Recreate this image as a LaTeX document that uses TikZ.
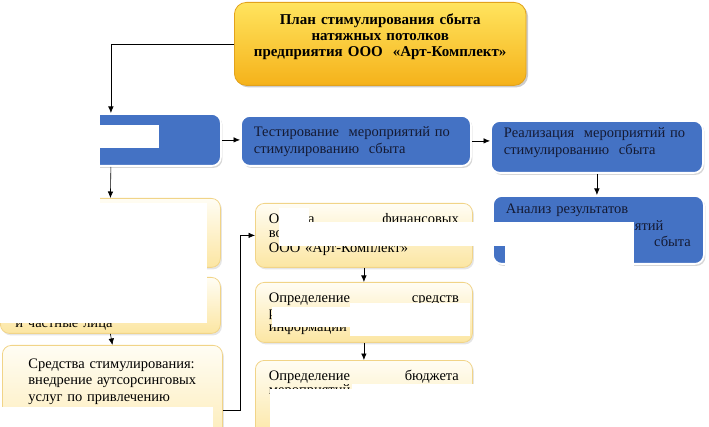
\documentclass[tikz,border=0pt]{standalone}
\usepackage{fontspec}
\setmainfont{Liberation Serif}
\usetikzlibrary{positioning, calc, arrows.meta, shadows}

\definecolor{boxblue}{HTML}{4472C4}
\definecolor{bluetext}{HTML}{141A33}
\definecolor{goldtop}{HTML}{FFE45E}
\definecolor{goldbot}{HTML}{F5B21A}
\definecolor{goldline}{HTML}{E2A21C}
\definecolor{creamtop}{HTML}{FFFDF4}
\definecolor{creambot}{HTML}{FCE6A2}
\definecolor{creamline}{HTML}{F1D488}

\tikzset{
  box/.style={anchor=north west, inner ysep=0pt, align=left, rounded corners=9pt},
  planbox/.style={box, align=center, top color=goldtop, bottom color=goldbot, draw=goldline,
    line width=0.8pt, rounded corners=12pt,
    drop shadow={shadow xshift=2pt, shadow yshift=-2pt, fill=black!40, opacity=0.5},
    font=\fontsize{15}{16}\selectfont\bfseries},
  bluebox/.style={box, fill=boxblue, draw=white, line width=1.8pt, text=bluetext,
    drop shadow={shadow xshift=1.5pt, shadow yshift=-2pt, fill=black!35, opacity=0.45},
    font=\fontsize{14.5}{16.5}\selectfont, inner xsep=13pt},
  creambox/.style={box, top color=creamtop, bottom color=creambot, draw=creamline,
    line width=0.8pt,
    drop shadow={shadow xshift=1.5pt, shadow yshift=-2pt, fill=black!25, opacity=0.4},
    font=\fontsize{14.5}{16.5}\selectfont, inner xsep=15pt},
  stepbox/.style={creambox, text width=190pt, inner xsep=13.5pt,
    font=\fontsize{14.5}{14.5}\selectfont},
  mask/.style={fill=white, draw=none},
  arr/.style={-{Latex[length=6.5pt,width=5.5pt]}, line width=0.6pt}
}

\begin{document}
\begin{tikzpicture}[x=1pt, y=-1pt]
\useasboundingbox (0,0) rectangle (709,427);

% Top
\node[planbox, text width=285pt, text height=22pt, text depth=61pt] (plan) at (234,2)
  {План стимулирования сбыта\\ натяжных потолков\\ предприятия ООО\ \ «Арт-Комплект»};

% Blue row
\node[bluebox, text width=194pt, minimum height=52pt] (choice) at (0,113) {};
\node[bluebox, text width=204pt, text height=21pt, text depth=29pt] (test) at (240,115)
  {Тестирование\ \ мероприятий по\\ стимулированию\ \ сбыта};
\node[bluebox, text width=186pt, text height=17pt, text depth=35pt] (realize) at (490,120)
  {Реализация\ \ мероприятий по\\ стимулированию\ \ сбыта};
\node[bluebox, text width=185pt, text height=18pt, text depth=50pt] (analysis) at (492,195)
  {Анализ результатов\\ проведения мероприятий\\ по стимулированию\hfill сбыта};

% Left column
\node[creambox, text width=190pt, minimum height=69pt] (l1) at (0,198) {};
\node[creambox, text width=190pt, text height=50pt, text depth=6pt] (l2) at (0,277)
  {и частные лица};
\node[creambox, text width=190pt, text height=23pt, text depth=107pt] (means) at (2,345)
  {\hspace*{11pt}Средства стимулирования:\\ \hspace*{11pt}внедрение аутсорсинговых\\
   \hspace*{11pt}услуг по привлечению};

% Right column
\node[stepbox, text height=20pt, text depth=44pt] (fin) at (255,203)
  {Оценка\hfill финансовых\\ возможностей\\ ООО «Арт-Комплект»};
\node[stepbox, text height=20pt, text depth=40pt] (media) at (255,282)
  {Определение\hfill средств\\ распространения\\ информации};
\node[stepbox, text height=20pt, text depth=60pt] (budget) at (255,360)
  {Определение\hfill бюджета\\ мероприятий};

% white patches over the picture
\fill[mask] (0,100) rectangle (100,175);
\fill[mask] (100,125) rectangle (159,148);
\fill[mask] (0,190) rectangle (100,272);
\fill[mask] (100,203) rectangle (207,271);
\fill[mask] (0,272) rectangle (207,323);
\fill[mask] (0,407) rectangle (213,427);
\fill[mask] (279,208) rectangle (309,246);
\fill[mask] (279,222) rectangle (634,246);
\fill[mask] (505,246) rectangle (634,270);
\fill[mask] (272,307) rectangle (470,327);
\fill[mask] (350,303) rectangle (470,336);
\fill[mask] (352,384) rectangle (480,389);
\fill[mask] (270,389) rectangle (480,427);

% Connectors
\draw[arr] (plan.west) -| (choice.north);
\draw[arr] (choice.east) -- (choice.east -| test.west);
\draw[arr] (test.east) -- (test.east -| realize.west);
\draw[arr] (realize.south) -- (realize.south |- analysis.north);
\draw[arr] (choice.south) -- (l1.north);
\draw[arr] (l2.south) -- (means.north);
\draw[arr] ([yshift=-65pt]means.north east) -- ++(17,0) |- (fin.west);
\draw[arr] (fin.south) -- (media.north);
\draw[arr] (media.south) -- (budget.north);

\end{tikzpicture}
\end{document}
